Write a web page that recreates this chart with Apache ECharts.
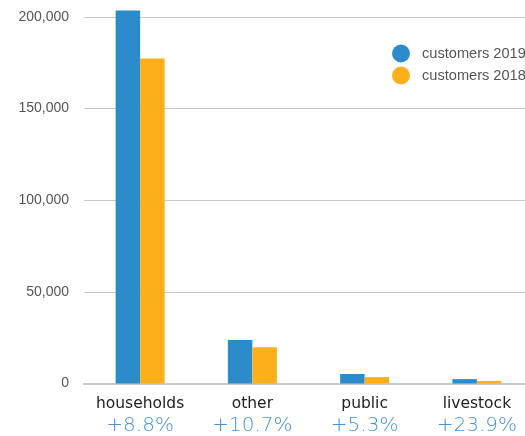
<!DOCTYPE html>
<html><head><meta charset="utf-8">
<script src="https://cdn.jsdelivr.net/npm/echarts@6/dist/echarts.min.js"></script>
<style>html,body{margin:0;padding:0;background:#fff;overflow:hidden}#c{width:545px;height:436px}</style>
</head><body><div id="c"></div>
<script>
const categories = ['households', 'other', 'public', 'livestock'];
const changes = ['+8.8%', '+10.7%', '+5.3%', '+23.9%'];
const customers2019 = [203600, 23700, 5200, 2400];
const customers2018 = [177400, 19800, 3500, 1400];
const yTicks = [0, 50000, 100000, 150000, 200000];

const chart = echarts.init(document.getElementById('c'));
chart.setOption({
  animation: false,
  textStyle: { fontFamily: 'Liberation Sans, Arial, sans-serif' },
  legend: {
    orient: 'vertical', left: 387, top: 39.5, icon: 'circle',
    itemWidth: 18, itemHeight: 18, itemGap: 4,
    textStyle: { color: '#555', fontSize: 14.6, padding: [0, 0, 0, 7] },
    data: ['customers 2019', 'customers 2018']
  },
  grid: { left: 84, top: 17, bottom: 51.5, width: 449, containLabel: false },
  xAxis: {
    type: 'category', data: categories,
    axisTick: { show: false },
    axisLine: { lineStyle: { color: '#c8c8c8', width: 2 } },
    axisLabel: {
      interval: 0, margin: 10,
      formatter: (v, i) => '{n|' + v + '}\n{p|' + changes[i] + '}',
      rich: {
        n: { color: '#222', fontSize: 15.5, lineHeight: 20, fontFamily: 'DejaVu Sans, sans-serif' },
        p: { color: '#4392d6', fontSize: 20, lineHeight: 25, fontFamily: 'DejaVu Sans, sans-serif', fontWeight: 200 }
      }
    }
  },
  yAxis: {
    type: 'value', min: 0, max: yTicks[yTicks.length - 1], interval: 50000,
    axisLine: { show: false }, axisTick: { show: false },
    splitLine: { lineStyle: { color: '#c8c8c8', width: 1 } },
    axisLabel: {
      margin: 15, color: '#555', fontSize: 14,
      formatter: v => v.toLocaleString('en-US')
    }
  },
  series: [
    { name: 'customers 2019', type: 'bar', data: customers2019, barWidth: 24.5, barGap: '0%', clip: false, itemStyle: { color: '#2b8bcb' } },
    { name: 'customers 2018', type: 'bar', data: customers2018, barWidth: 24.5, barGap: '0%', clip: false, itemStyle: { color: '#fbb01b' } }
  ]
});
</script></body></html>
